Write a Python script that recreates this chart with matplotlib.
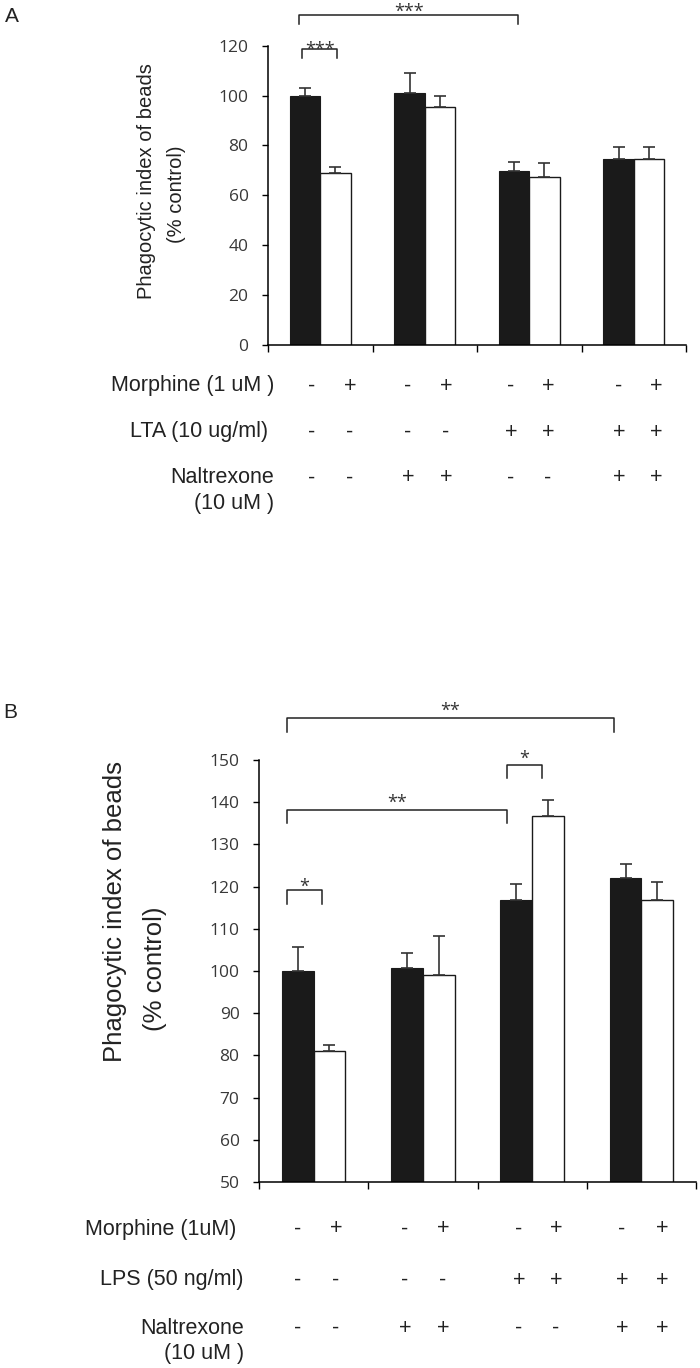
import matplotlib.pyplot as plt
import numpy as np

# ---- data ----
groups = np.arange(4)

a_black = [100.0, 101.0, 69.8, 74.6]
a_black_err = [3.2, 7.9, 3.7, 4.8]
a_white = [69.0, 95.3, 67.4, 74.6]
a_white_err = [2.2, 4.7, 5.4, 4.8]

b_black = [100.0, 100.6, 116.8, 122.0]
b_black_err = [5.7, 3.7, 3.7, 3.4]
b_white = [81.0, 99.1, 136.7, 116.8]
b_white_err = [1.5, 9.1, 3.8, 4.2]

a_yticks = [0, 20, 40, 60, 80, 100, 120]
b_yticks = [50, 60, 70, 80, 90, 100, 110, 120, 130, 140, 150]

morphine = ['-', '+', '-', '+', '-', '+', '-', '+']
stimulus = ['-', '-', '-', '-', '+', '+', '+', '+']
naltrexone = ['-', '-', '+', '+', '-', '-', '+', '+']

a_rows = ['Morphine (1 uM )', 'LTA (10 ug/ml)', 'Naltrexone\n(10 uM )']
b_rows = ['Morphine (1uM)', 'LPS (50 ng/ml)', 'Naltrexone\n(10 uM )']

# significance brackets: (x0, x1, y, drop, label, text shift in px)
a_sig = [(-0.20, 1.89, 132.5, 3.9, '***', -2.5), (-0.17, 0.16, 118.6, 3.6, '***', -6)]
b_sig = [(-0.245, 2.75, 160.0, 3.3, '**', 1.5), (-0.245, 1.77, 138.2, 3.1, '**', 2),
         (1.77, 2.09, 148.9, 3.2, '*', 0.5), (-0.245, 0.08, 119.2, 3.3, '*', -2)]

W, H = 700, 1368
fig = plt.figure(figsize=(W / 100, H / 100), dpi=100)

tick_font = 'Open Sans'
label_font = ['Liberation Sans', 'DejaVu Sans']
ink = '#222222'


def fx(x):
    return x / W


def fy(y):
    return 1 - y / H


def draw_panel(rect, black, black_err, white, white_err, yticks, sigs):
    ax = fig.add_axes(rect)
    w = 0.29
    ax.bar(groups - w / 2, black, w, color='#1a1a1a', edgecolor='#1a1a1a', lw=0.8)
    ax.bar(groups + w / 2, white, w, color='white', edgecolor='#1a1a1a', lw=1.0)
    ax.errorbar(groups - w / 2, black, yerr=[np.zeros(4), black_err], fmt='none',
                ecolor='#333333', elinewidth=1.2, capsize=4, capthick=1.2)
    ax.errorbar(groups + w / 2, white, yerr=[np.zeros(4), white_err], fmt='none',
                ecolor='#333333', elinewidth=1.2, capsize=4, capthick=1.2)
    ax.set_xlim(-0.5, 3.5)
    ax.set_ylim(yticks[0], yticks[-1])
    ax.set_yticks(yticks)
    ax.set_xticks(np.arange(-0.5, 4, 1))
    ax.set_xticklabels([])
    ax.tick_params(axis='y', direction='out', length=4, width=1, pad=10,
                   labelsize=12.5, labelcolor='#383838')
    ax.tick_params(axis='x', direction='out', length=5, width=1)
    for lab in ax.get_yticklabels():
        lab.set_fontfamily(tick_font)
    for s in ['top', 'right']:
        ax.spines[s].set_visible(False)
    for s in ['left', 'bottom']:
        ax.spines[s].set_linewidth(1.1)
    for x0, x1, y, d, lab, dy in sigs:
        ax.plot([x0, x0, x1, x1], [y - d, y, y, y - d], color=ink, lw=1.1,
                clip_on=False)
        ax.annotate(lab, xy=((x0 + x1) / 2, y), xytext=(0, dy * 0.72),
                    textcoords='offset points', ha='center', va='baseline',
                    fontsize=13, color='#333333', family=tick_font,
                    annotation_clip=False)
    return ax


def draw_table(rows, col_x, row_y, label_x):
    values = [morphine, stimulus, naltrexone]
    for i, (name, vals) in enumerate(zip(rows, values)):
        yy = row_y[i]
        lines = name.split('\n')
        for k, line in enumerate(lines):
            fig.text(fx(label_x[i]), fy(yy + 26 * k), line, ha='right', va='center',
                     fontsize=15.5, family=label_font, color=ink)
        for cx, v in zip(col_x, vals):
            fig.text(fx(cx), fy(yy), v, ha='center', va='center',
                     fontsize=15.5, family=label_font, color=ink)


# panel A
draw_panel([fx(268), fy(345), fx(686) - fx(268), fy(45.7) - fy(345)],
           a_black, a_black_err, a_white, a_white_err, a_yticks, a_sig)
fig.text(fx(12), fy(17), 'A', ha='center', va='center', fontsize=15,
         family=label_font, color=ink)
fig.text(fx(147), fy(181), 'Phagocytic index of beads', rotation=90, ha='center',
         va='center', fontsize=14.5, family=label_font, color=ink)
fig.text(fx(177), fy(194), '(% control)', rotation=90, ha='center',
         va='center', fontsize=14.5, family=label_font, color=ink)
draw_table(a_rows, [312, 350, 408, 446, 511, 548, 619, 656],
           [386, 432, 478], [274, 268, 274])

# panel B
draw_panel([fx(259), fy(1182), fx(696) - fx(259), fy(760) - fy(1182)],
           b_black, b_black_err, b_white, b_white_err, b_yticks, b_sig)
fig.text(fx(10), fy(712), 'B', ha='center', va='center', fontsize=15,
         family=label_font, color=ink)
fig.text(fx(115), fy(911), 'Phagocytic index of beads', rotation=90, ha='center',
         va='center', fontsize=18.5, family=label_font, color=ink)
fig.text(fx(155), fy(969), '(% control)', rotation=90, ha='center',
         va='center', fontsize=18.5, family=label_font, color=ink)
draw_table(b_rows, [298, 336, 405, 443, 519, 556, 622, 662],
           [1229, 1280, 1328], [236, 244, 244])

fig.savefig('out.png', dpi=100)
